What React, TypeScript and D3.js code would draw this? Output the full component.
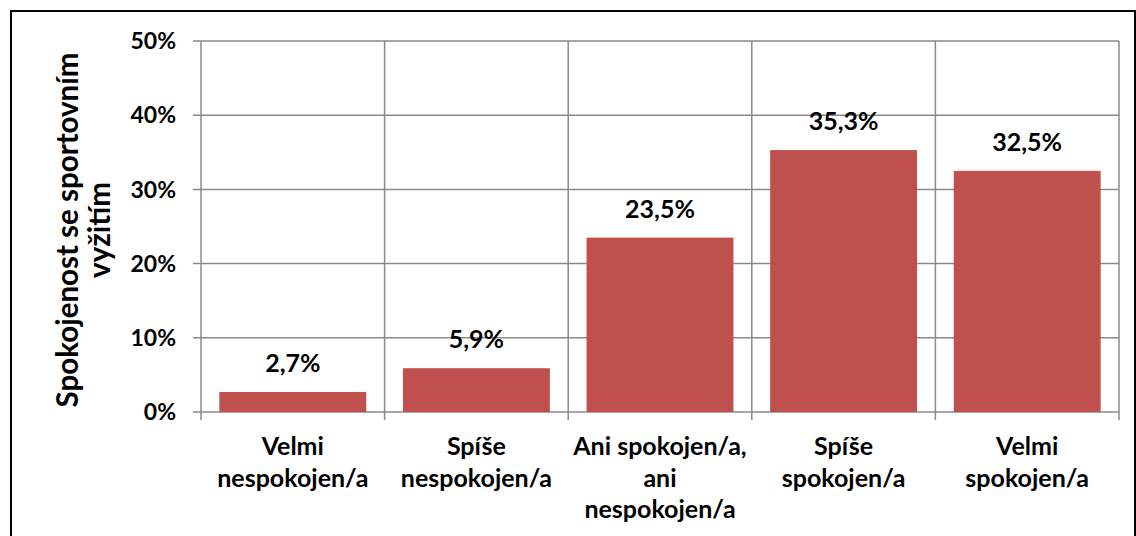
import React, { useEffect, useRef } from 'react';
import * as d3 from 'd3';

// categories (already split into lines like the original)
const categories = [
  ['Velmi', 'nespokojen/a'],
  ['Spíše', 'nespokojen/a'],
  ['Ani spokojen/a,', 'ani', 'nespokojen/a'],
  ['Spíše', 'spokojen/a'],
  ['Velmi', 'spokojen/a'],
];
const values = [2.7, 5.9, 23.5, 35.3, 32.5];
const yTicks = [0, 10, 20, 30, 40, 50];
const yTitle = ['Spokojenost se sportovním', 'vyžitím'];

const W = 1136;
const H = 536;
const FONT = 'Lato, "Open Sans", sans-serif';

const App = () => {
  const svgRef = useRef<SVGSVGElement | null>(null);

  useEffect(() => {
    const svg = d3.select(svgRef.current);
    svg.selectAll('*').remove();

    const left = 201, right = 1119, top = 41, bottom = 412;

    const x = d3.scaleBand<number>()
      .domain(values.map((_, i) => i))
      .range([left, right])
      .paddingInner(0)
      .paddingOuter(0);
    const y = d3.scaleLinear().domain([0, 50]).range([bottom, top]);

    // outer chart border
    svg.append('path')
      .attr('d', `M11,${H + 5} L11,11 L1135,11 L1135,${H + 5}`)
      .attr('fill', 'none')
      .attr('stroke', '#000')
      .attr('stroke-width', 2);

    const grid = '#8a8a8a';

    // horizontal gridlines + tick marks
    svg.append('g')
      .selectAll('line')
      .data(yTicks)
      .join('line')
      .attr('x1', left - 8)
      .attr('x2', right)
      .attr('y1', d => y(d))
      .attr('y2', d => y(d))
      .attr('stroke', grid)
      .attr('stroke-width', 1.5);

    // vertical gridlines (category boundaries) with ticks under the axis
    const bounds = d3.range(values.length + 1).map(i => left + i * x.bandwidth());
    svg.append('g')
      .selectAll('line')
      .data(bounds)
      .join('line')
      .attr('x1', d => d)
      .attr('x2', d => d)
      .attr('y1', top)
      .attr('y2', bottom + 8)
      .attr('stroke', grid)
      .attr('stroke-width', 1.5);

    // y tick labels
    svg.append('g')
      .selectAll('text')
      .data(yTicks)
      .join('text')
      .attr('x', left - 25)
      .attr('y', d => y(d))
      .attr('dy', '0.36em')
      .attr('text-anchor', 'end')
      .attr('font-family', FONT)
      .attr('font-weight', 'bold')
      .attr('font-size', 23)
      .text(d => `${d}%`);

    // bars
    const bw = x.bandwidth() * 0.8;
    svg.append('g')
      .selectAll('rect')
      .data(values)
      .join('rect')
      .attr('x', (_, i) => x(i)! + (x.bandwidth() - bw) / 2)
      .attr('width', bw)
      .attr('y', d => y(d))
      .attr('height', d => bottom - y(d))
      .attr('fill', '#C0504D');

    // data labels
    svg.append('g')
      .selectAll('text')
      .data(values)
      .join('text')
      .attr('x', (_, i) => x(i)! + x.bandwidth() / 2)
      .attr('y', d => y(d) - 20)
      .attr('text-anchor', 'middle')
      .attr('font-family', FONT)
      .attr('font-weight', 'bold')
      .attr('font-size', 25)
      .text(d => `${d.toFixed(1).replace('.', ',')}%`);

    // category labels
    const cat = svg.append('g')
      .selectAll('text')
      .data(categories)
      .join('text')
      .attr('x', (_, i) => x(i)! + x.bandwidth() / 2)
      .attr('y', 455)
      .attr('text-anchor', 'middle')
      .attr('font-family', FONT)
      .attr('font-weight', 'bold')
      .attr('font-size', 25);
    cat.selectAll('tspan')
      .data(d => d)
      .join('tspan')
      .attr('x', function () {
        return (this.parentNode as SVGTextElement).getAttribute('x');
      })
      .attr('dy', (_, j) => (j === 0 ? 0 : 31.5))
      .text(d => d);

    // y axis title
    const t = svg.append('text')
      .attr('transform', 'translate(0,230) rotate(-90)')
      .attr('text-anchor', 'middle')
      .attr('font-family', FONT)
      .attr('font-weight', 'bold')
      .attr('font-size', 29.5);
    t.selectAll('tspan')
      .data(yTitle)
      .join('tspan')
      .attr('x', 0)
      .attr('y', (_, j) => 78 + j * 32)
      .text(d => d);
  }, []);

  return (
    <div style={{ position: 'fixed', left: 0, top: 0, width: W, height: H, background: '#fff' }}>
      <svg ref={svgRef} width={W} height={H} style={{ display: 'block' }} />
    </div>
  );
};

export default App;
